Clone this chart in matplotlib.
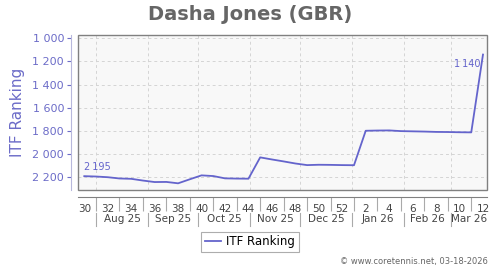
import matplotlib
matplotlib.use('Agg')
import matplotlib.pyplot as plt
import matplotlib.dates as mdates
from matplotlib.patches import Rectangle
from matplotlib.lines import Line2D
from matplotlib.ticker import FuncFormatter, FixedLocator
import pandas as pd

# weekly ITF ranking, week 30/2025 .. week 12/2026
dates = pd.date_range('2025-07-25', periods=35, freq='7D')
ranking = [2195, 2198, 2204, 2215, 2218, 2233, 2246, 2245, 2257, 2222,
           2188, 2194, 2214, 2216, 2217, 2032, 2050, 2067, 2085, 2099,
           2096, 2097, 2099, 2100, 1801, 1799, 1798, 1804, 1806, 1808,
           1811, 1812, 1814, 1815, 1140]
yticks = [1000, 1200, 1400, 1600, 1800, 2000, 2200]
months = pd.date_range('2025-08-01', '2026-03-01', freq='MS')

BLUE = '#6464cc'; TICKC = '#6c6cc8'; GRID = '#d4d4d4'; GRAY = '#808080'

def thou(v, sep=' '):
    return f'{int(v):,}'.replace(',', sep)

fig = plt.figure(figsize=(5.0, 2.7), dpi=100)
ax = fig.add_axes([0.156, 0.2963, 0.818, 0.5737])
ax.set_facecolor('#f8f8f8')

x = mdates.date2num(dates)
ax.plot(x, ranking, color=BLUE, lw=1.3, zorder=3)
ax.text(x[0], ranking[0] - 40, thou(ranking[0], '\u2009'), color=BLUE,
        fontsize=7, ha='left', va='bottom')
ax.text(x[-1] - 1.5, ranking[-1] + 40, thou(ranking[-1], '\u2009'), color=BLUE,
        fontsize=7, ha='right', va='top')

xl, xr = x[0] - 3.75, x[-1] + 2.4
ax.set_xlim(xl, xr)
ax.set_ylim(2315, 971)

# y axis
ax.yaxis.set_major_locator(FixedLocator(yticks))
ax.yaxis.set_major_formatter(FuncFormatter(lambda v, p: thou(v)))
ax.tick_params(axis='y', colors=TICKC, labelsize=8, length=3, width=0.8, pad=2)
ax.set_ylabel('ITF Ranking', color=TICKC, fontsize=11, labelpad=5)

# grid: horizontal at ticks, vertical at month starts
ax.grid(False)
for v in yticks:
    ax.axhline(v, color=GRID, lw=0.7, ls=(0, (3, 3)), zorder=1)
for m in mdates.date2num(months):
    ax.axvline(m, color=GRID, lw=0.7, ls=(0, (3, 3)), zorder=1)

for s in ['top', 'right']:
    ax.spines[s].set_visible(False)
ax.spines['left'].set_position(('outward', 5))
ax.spines['left'].set_color('#b8b8dc')
ax.spines['bottom'].set_position(('outward', 5))
ax.spines['bottom'].set_color(GRAY)
ax.add_patch(Rectangle((0, 0), 1, 1, transform=ax.transAxes, fill=False,
                       ec=GRAY, lw=1.0, clip_on=False, zorder=4))

# x axis: week numbers (row 1) and months (row 2)
ax.xaxis.set_major_locator(FixedLocator(x[1::2]))
ax.xaxis.set_major_formatter(FuncFormatter(lambda v, p: ''))
ax.tick_params(axis='x', which='major', length=10, width=0.8, color='#aaaaaa', direction='out')
wk = [str(d.isocalendar()[1]) for d in dates[0::2]]
ax.set_xticks(x[0::2], wk, minor=True)
ax.tick_params(axis='x', which='minor', length=0, labelsize=7.5, labelcolor='#444444', pad=5)

tr = ax.get_xaxis_transform()
mnum = list(mdates.date2num(months))
edges = mnum + [xr]
for m in mnum:
    ax.add_line(Line2D([m, m], [-0.15, -0.235], transform=tr, color='#aaaaaa', lw=0.8, clip_on=False))
for i, m in enumerate(months):
    ax.text((edges[i] + edges[i + 1]) / 2, -0.19, m.strftime('%b %y'), transform=tr,
            ha='center', va='center', fontsize=7.5, color='#444444')

fig.text(0.5, 0.948, 'Dasha Jones (GBR)', ha='center', va='center',
         fontsize=14, weight='bold', color='#666666')
leg = fig.legend([Line2D([0], [0], color=BLUE, lw=1.3)], ['ITF Ranking'],
                 loc='center', bbox_to_anchor=(0.5, 0.105), fontsize=8.5,
                 frameon=True, fancybox=False, handlelength=1.4, handletextpad=0.4,
                 borderpad=0.3, borderaxespad=0)
leg.get_frame().set_edgecolor('#999999'); leg.get_frame().set_linewidth(0.8)
fig.text(0.976, 0.03, '\u00a9 www.coretennis.net, 03-18-2026', ha='right', va='center',
         fontsize=6, color='#666666')
fig.savefig('out.png', dpi=100)
